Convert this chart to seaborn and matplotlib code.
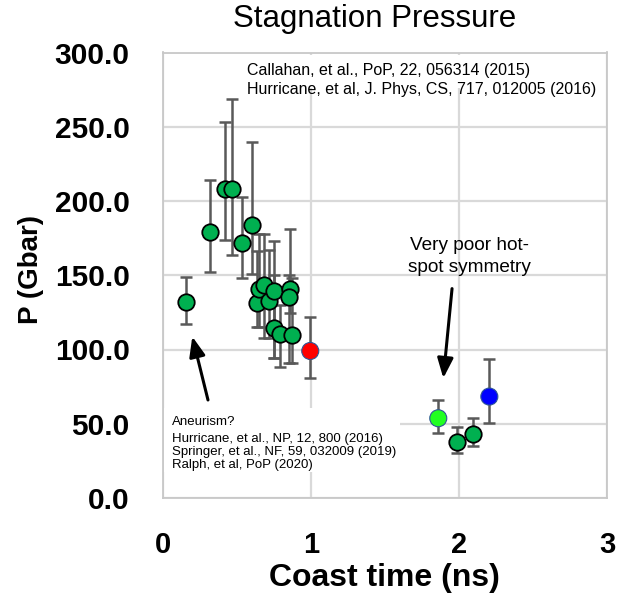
import numpy as np
import pandas as pd
import matplotlib
matplotlib.use("Agg")
import matplotlib.pyplot as plt
from matplotlib.patches import Rectangle
import seaborn as sns

# ---------------- data ----------------
green_time = [0.155, 0.318, 0.419, 0.464, 0.532, 0.599, 0.633, 0.651, 0.684,
              0.718, 0.752, 0.750, 0.790, 0.860, 0.851, 0.872, 1.984, 2.093]
green_pressure = [132, 179, 208, 208, 172, 184, 131, 141, 143.5,
                  132.7, 139.7, 114.3, 110.3, 140.8, 135.6, 109.8, 37.9, 43.1]
green_low = [117, 152.5, 174, 163.5, 148, 151, 115, 115, 108,
             108, 94, 94, 88, 124.7, 91, 91, 30.1, 35]
green_high = [149, 214, 253, 269, 203, 240, 166, 178, 178,
              167, 173, 150, 130, 181.3, 150, 148, 47.6, 53.7]

special_names = ["red", "lightgreen", "blue"]
special_time = [0.995, 1.86, 2.205]
special_pressure = [99, 53.7, 68.3]
special_low = [80.7, 43.6, 50.7]
special_high = [122.2, 66, 93.7]
special_colors = ["#ff0000", "#22ff22", "#0000ff"]

x_ticks = [0, 1, 2, 3]
x_tick_labels = ["0", "1", "2", "3"]
y_ticks = [0, 50, 100, 150, 200, 250, 300]
y_tick_labels = ["0.0", "50.0", "100.0", "150.0", "200.0", "250.0", "300.0"]

title = "Stagnation Pressure"
x_label = "Coast time (ns)"
y_label = "P (Gbar)"
ref_top = "Callahan, et al., PoP, 22, 056314 (2015)\nHurricane, et al, J. Phys, CS, 717, 012005 (2016)"
aneurism = "Aneurism?"
ref_bottom = ("Hurricane, et al., NP, 12, 800 (2016)\n"
              "Springer, et al., NF, 59, 032009 (2019)\n"
              "Ralph, et al, PoP (2020)")
symmetry = "Very poor hot-\nspot symmetry"

# ---------------- styling ----------------
sns.set_theme(style="white")
plt.rcParams["font.family"] = ["Liberation Sans", "DejaVu Sans"]
plt.rcParams["text.color"] = "black"
plt.rcParams["axes.labelcolor"] = "black"
plt.rcParams["xtick.color"] = "black"
plt.rcParams["ytick.color"] = "black"

W, H = 618, 601
fig = plt.figure(figsize=(W / 100, H / 100), dpi=100)
ax = fig.add_axes([163 / W, 103 / H, 444 / W, 445.5 / H])

green_df = pd.DataFrame({"time": green_time, "pressure": green_pressure,
                         "low": green_low, "high": green_high})
special_df = pd.DataFrame({"shot": special_names, "time": special_time,
                           "pressure": special_pressure,
                           "low": special_low, "high": special_high})

# error bars
for df in (green_df, special_df):
    ax.errorbar(df["time"], df["pressure"],
                yerr=[df["pressure"] - df["low"], df["high"] - df["pressure"]],
                fmt="none", ecolor="#595959", elinewidth=1.8, capsize=4.5,
                capthick=1.8, zorder=3)

sns.scatterplot(data=green_df, x="time", y="pressure", color="#00b050",
                edgecolor="black", linewidth=1.3, s=140, ax=ax, zorder=4,
                legend=False)
sns.scatterplot(data=special_df, x="time", y="pressure", hue="shot",
                palette=dict(zip(special_names, special_colors)),
                edgecolor="#2f5597", linewidth=0.8, s=150, ax=ax, zorder=4,
                legend=False)

ax.set_xlim(0, 3)
ax.set_ylim(0, 300)
ax.set_xticks(x_ticks)
ax.set_xticklabels(x_tick_labels)
ax.set_yticks(y_ticks)
ax.set_yticklabels(y_tick_labels)
ax.tick_params(axis="x", length=0, pad=24, labelsize=21, colors="black")
ax.tick_params(axis="y", length=0, pad=24, labelsize=21.5, colors="black")
for lab in ax.get_xticklabels() + ax.get_yticklabels():
    lab.set_fontweight("bold")
ax.set_xlabel("")
ax.set_ylabel("")

ax.grid(True, color="#d9d9d9", linewidth=1.6)
ax.set_axisbelow(True)
for sp in ax.spines.values():
    sp.set_color("#c8c8c8")
    sp.set_linewidth(1.3)

# white boxes behind annotations
ax.add_patch(Rectangle((0.52, 276.3), 2.46, 22.2, facecolor="white",
                       edgecolor="none", zorder=1.5))
ax.add_patch(Rectangle((0.01, 17.5), 1.59, 43.1, facecolor="white",
                       edgecolor="none", zorder=1.5))

ax.text(0.568, 293, ref_top, fontsize=11.5, va="top", ha="left",
        linespacing=1.38, zorder=5)
ax.text(0.059, 55.3, aneurism, fontsize=9.5, va="top", ha="left", zorder=5)
ax.text(0.059, 44.0, ref_bottom, fontsize=9.5, va="top", ha="left",
        linespacing=1.13, zorder=5)
ax.text(2.07, 176, symmetry, fontsize=13.7, va="top", ha="center",
        linespacing=1.4, zorder=5)

arrow = dict(arrowstyle="-|>,head_length=0.5,head_width=0.2", color="black",
             lw=2.2, shrinkA=0, shrinkB=0, mutation_scale=24)
ax.annotate("", xy=(0.198, 108.7), xytext=(0.304, 66), arrowprops=arrow,
            zorder=5)
ax.annotate("", xy=(1.894, 80.7), xytext=(1.953, 141), arrowprops=arrow,
            zorder=5)

fig.text(375 / W, 1 - 27 / H, title, fontsize=22.5, ha="center",
         va="baseline")
fig.text(384 / W, 1 - 586 / H, x_label, fontsize=23, fontweight="bold",
         ha="center", va="baseline")
fig.text(31 / W, 1 - 269 / H, y_label, fontsize=20, fontweight="bold",
         rotation=90, ha="center", va="center")

fig.savefig("out.png", dpi=100)
